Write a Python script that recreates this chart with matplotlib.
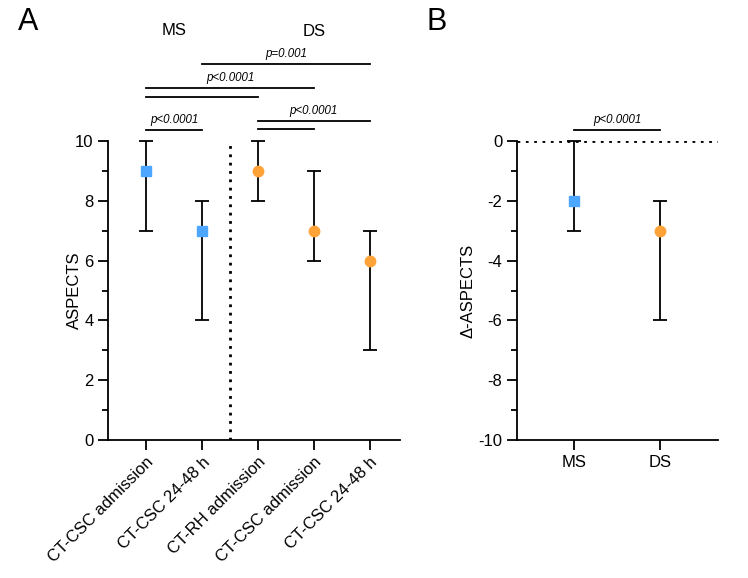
import numpy as np
import matplotlib.pyplot as plt
from matplotlib.ticker import MultipleLocator

plt.rcParams['font.family'] = ['Liberation Sans', 'DejaVu Sans']
plt.rcParams['axes.unicode_minus'] = False

# panel A data: median and range
labels_a = ['CT-CSC admission', 'CT-CSC 24-48 h', 'CT-RH admission',
            'CT-CSC admission', 'CT-CSC 24-48 h']
groups_a = ['MS', 'MS', 'DS', 'DS', 'DS']
med_a = [9, 7, 9, 7, 6]
low_a = [7, 4, 8, 6, 3]
high_a = [10, 8, 10, 9, 7]

# panel B data
labels_b = ['MS', 'DS']
med_b = [-2, -3]
low_b = [-3, -6]
high_b = [0, -2]

# significance brackets: (from, to, height, text)
brackets_a = [(1, 4, 12.58, 'p=0.001'),
              (0, 3, 11.77, 'p<0.0001'),
              (0, 2, 11.47, ''),
              (2, 4, 10.67, 'p<0.0001'),
              (0, 1, 10.37, 'p<0.0001'),
              (2, 3, 10.40, '')]
brackets_b = [(0, 1, 0.37, 'p<0.0001')]

colors = {'MS': '#4da6ff', 'DS': '#ffa238'}
markers = {'MS': 's', 'DS': 'o'}

fig = plt.figure(figsize=(7.48, 5.78), dpi=100)
ax1 = fig.add_axes([108/748, 1-440/578, 292/748, 299/578])
ax2 = fig.add_axes([517/748, 1-440/578, 201/748, 299/578])


def style(ax):
    for s in ['top', 'right']:
        ax.spines[s].set_visible(False)
    for s in ['left', 'bottom']:
        ax.spines[s].set_linewidth(1.3)
    ax.tick_params(axis='both', which='major', length=7, width=1.3, labelsize=12)
    ax.tick_params(axis='y', which='minor', length=4, width=1.3)
    ax.yaxis.set_major_locator(MultipleLocator(2))
    ax.yaxis.set_minor_locator(MultipleLocator(1))


def draw_brackets(ax, brackets):
    for a, b, h, t in brackets:
        ax.plot([a, b], [h, h], color='black', lw=1.3, clip_on=False)
        if t:
            ax.text((a + b) / 2, h + 0.12, t, ha='center', va='bottom',
                    fontsize=8.3, style='italic', clip_on=False)


x_a = np.arange(len(med_a))
for i in range(len(med_a)):
    g = groups_a[i]
    ax1.errorbar(x_a[i], med_a[i],
                 yerr=[[med_a[i] - low_a[i]], [high_a[i] - med_a[i]]],
                 fmt=markers[g], color=colors[g], ms=7.5, ecolor='black',
                 elinewidth=1.3, capsize=5, capthick=1.3, zorder=3,
                 clip_on=False)
ax1.plot([1.5, 1.5], [0, 10], color='black', lw=2, ls=(0, (1, 2)))
ax1.set_xlim(-0.68, 4.54)
ax1.set_ylim(0, 10)
style(ax1)
ax1.set_xticks(x_a)
ax1.set_xticklabels(labels_a, rotation=45, ha='right', rotation_mode='anchor')
ax1.set_ylabel('ASPECTS', fontsize=12)
ax1.yaxis.set_label_coords(-0.089, 0.5)
draw_brackets(ax1, brackets_a)
ax1.text(0.5, 13.7, 'MS', ha='center', va='center', fontsize=12)
ax1.text(3, 13.65, 'DS', ha='center', va='center', fontsize=12)

x_b = np.arange(len(med_b))
for i in range(len(med_b)):
    g = labels_b[i]
    ax2.errorbar(x_b[i], med_b[i],
                 yerr=[[med_b[i] - low_b[i]], [high_b[i] - med_b[i]]],
                 fmt=markers[g], color=colors[g], ms=7.5, ecolor='black',
                 elinewidth=1.3, capsize=5, capthick=1.3, zorder=3,
                 clip_on=False)
ax2.set_xlim(-0.66, 1.67)
ax2.set_ylim(-10, 0)
ax2.axhline(0, color='black', lw=2, ls=(0, (1, 2)), zorder=1)
style(ax2)
ax2.set_xticks(x_b)
ax2.set_xticklabels(labels_b)
ax2.set_ylabel('\u0394-ASPECTS', fontsize=12)
ax2.yaxis.set_label_coords(-0.204, 0.5)
draw_brackets(ax2, brackets_b)

fig.text(18/748, 1-22/578, 'A', fontsize=22, ha='left', va='center')
fig.text(427/748, 1-22/578, 'B', fontsize=22, ha='left', va='center')

fig.savefig('out.png', dpi=100)
